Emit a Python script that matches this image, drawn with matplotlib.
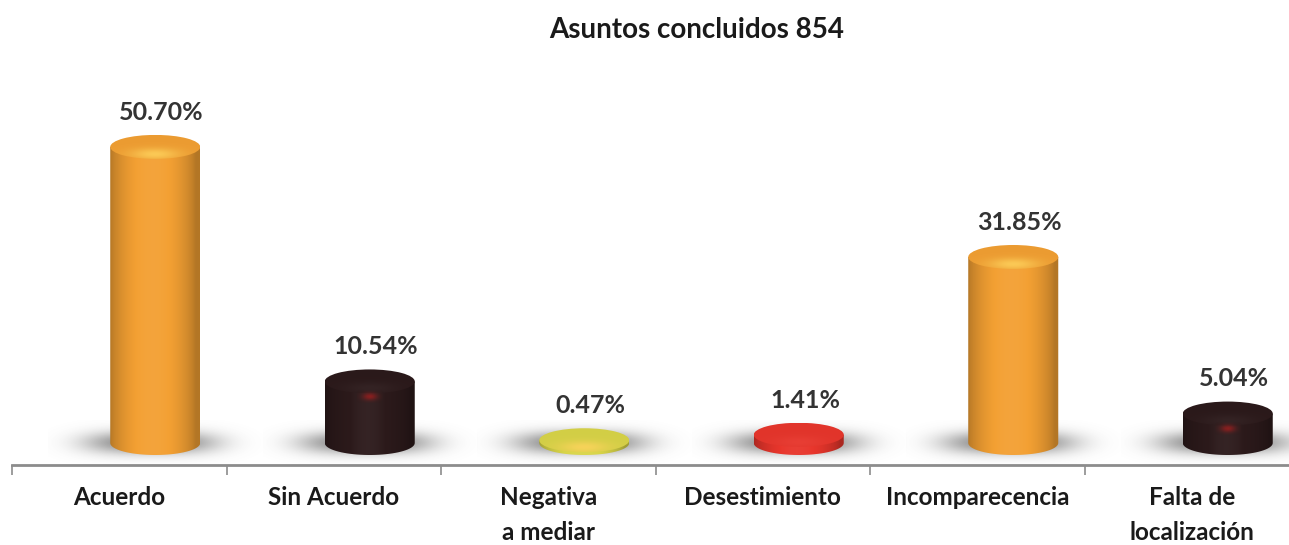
import numpy as np
import matplotlib.pyplot as plt
from matplotlib.patches import Ellipse, PathPatch
from matplotlib.path import Path
from matplotlib.colors import to_rgb

plt.rcParams['font.family'] = ['Lato', 'DejaVu Sans']

categorias = ["Acuerdo", "Sin Acuerdo", "Negativa\na mediar", "Desestimiento",
              "Incomparecencia", "Falta de\nlocalización"]
porcentajes = [50.70, 10.54, 0.47, 1.41, 31.85, 5.04]
etiquetas = ["50.70%", "10.54%", "0.47%", "1.41%", "31.85%", "5.04%"]
colores = ["#F3A033", "#2C1A1B", "#D9D548", "#E8362C", "#F3A033", "#2C1A1B"]
titulo = "Asuntos concluidos 854"

W, H = 1289, 545
fig = plt.figure(figsize=(W / 100, H / 100), dpi=100)

# axes geometry in pixels: floor line at 465, bar base at 443, 5.84 px per percent
base_px, floor_px, top_px, k = 443, 465, 60, 5.84
y0 = -(floor_px - base_px) / k
y1 = (base_px - top_px) / k
ax = fig.add_axes([12 / W, (H - floor_px) / H, 1287 / W, (floor_px - top_px) / H])
px_x = 1287 / 6.0            # pixels per category unit

bar_w = 90 / px_x
cap_h = 24 / k
shift = 36 / px_x


def mezcla(c, f):
    c = np.array(to_rgb(c))
    if f < 1:
        return c * f
    return c + (1 - c) * (f - 1)


def cilindro(xc, v, color, z):
    a, b = bar_w / 2, cap_h / 2
    # shadow on the floor
    sx = np.linspace(-0.5, 0.5, 120)
    sy = np.linspace(-3.8, 3.8, 60)
    X, Y = np.meshgrid(sx, sy)
    alpha = 0.8 * np.exp(-(np.abs(X + 0.02) / 0.31) ** 3 - (np.abs(Y) / 1.9) ** 2)
    sh = np.zeros((60, 120, 4))
    sh[..., :3] = 0.42
    sh[..., 3] = alpha
    ax.imshow(sh, extent=[xc - 0.5, xc + 0.5, -3.8, 3.8], origin='lower',
              aspect='auto', zorder=z, interpolation='bilinear')

    # body with horizontal shading
    t = np.linspace(0, 1, 100)
    prof = 0.74 + 0.3 * np.sin(np.pi * np.clip(t * 1.05, 0, 1)) ** 0.7
    body = np.array([mezcla(color, p) for p in prof])[None, :, :].clip(0, 1)
    ang = np.linspace(np.pi, 2 * np.pi, 40)
    verts = [(xc + a * np.cos(q), b * np.sin(q)) for q in ang]
    verts += [(xc + a, v), (xc - a, v), verts[0]]
    codes = [Path.MOVETO] + [Path.LINETO] * (len(verts) - 2) + [Path.CLOSEPOLY]
    clip = PathPatch(Path(verts, codes), fc='none', ec='none', zorder=z + 1)
    ax.add_patch(clip)
    im = ax.imshow(body, extent=[xc - a, xc + a, -b, v], origin='lower',
                   aspect='auto', zorder=z + 1, interpolation='bilinear')
    im.set_clip_path(clip)

    # reddish glow on the dark bars
    if sum(to_rgb(color)) < 0.6:
        gx = np.linspace(-1, 1, 40)
        GX, GY = np.meshgrid(gx, gx)
        gl = np.zeros((40, 40, 4))
        gl[..., :3] = to_rgb("#9E1E1E")
        gl[..., 3] = 0.8 * np.exp(-(GX ** 2 + GY ** 2) * 3)
        ax.imshow(gl, extent=[xc - 0.06, xc + 0.06, v - b - 1.6, v - b + 0.6],
                  origin='lower', aspect='auto', zorder=z + 3, interpolation='bilinear')

    # top cap with a soft highlight
    cx = np.linspace(0, 1, 80)
    CX, CY = np.meshgrid(cx, cx)
    hl = np.exp(-((CX - 0.5) / 0.28) ** 2 - ((CY - 0.2) / 0.25) ** 2)
    c0 = mezcla(color, 0.97)
    if sum(to_rgb(color)) > 1.5:
        c1 = np.array(to_rgb("#FFD45E"))
    else:
        c1 = mezcla(color, 1.05)
    cap = c0[None, None, :] * (1 - hl[..., None] * 0.8) + c1[None, None, :] * hl[..., None] * 0.8
    el = Ellipse((xc, v), 2 * a, 2 * b, angle=0, fc='none', ec='none', zorder=z + 2)
    ax.add_patch(el)
    ci = ax.imshow(cap.clip(0, 1), extent=[xc - a, xc + a, v - b, v + b], origin='lower',
                   aspect='auto', zorder=z + 2, interpolation='bilinear')
    ci.set_clip_path(el)


for i, (v, c, lab) in enumerate(zip(porcentajes, colores, etiquetas)):
    xc = i + shift
    cilindro(xc, v, c, 2 + 5 * i)
    ax.annotate(lab, (xc + 0.03, v + cap_h / 2), xytext=(0, 8), textcoords='offset points',
                ha='center', va='bottom', fontsize=18, fontweight='bold', color='#333333')

ax.set_xlim(-0.5, 5.5)
ax.set_ylim(y0, y1)
for s in ['top', 'left', 'right']:
    ax.spines[s].set_visible(False)
ax.spines['bottom'].set_color('#8C8C8C')
ax.spines['bottom'].set_linewidth(2)
ax.set_yticks([])
ax.set_xticks(np.arange(-0.5, 6, 1))
ax.set_xticklabels([])
ax.tick_params(axis='x', which='major', length=7, width=1.2, color='#8C8C8C')
ax.set_xticks(range(6), minor=True)
ax.set_xticklabels(categorias, minor=True, fontsize=17.5, fontweight='bold',
                   color='#1A1A1A', linespacing=1.65)
ax.tick_params(axis='x', which='minor', length=0, pad=15)

fig.text(697 / W, 1 - 30 / H, titulo, ha='center', va='center',
         fontsize=20, fontweight='bold', color='#1A1A1A')

fig.savefig('out.png', dpi=100, facecolor='white')
